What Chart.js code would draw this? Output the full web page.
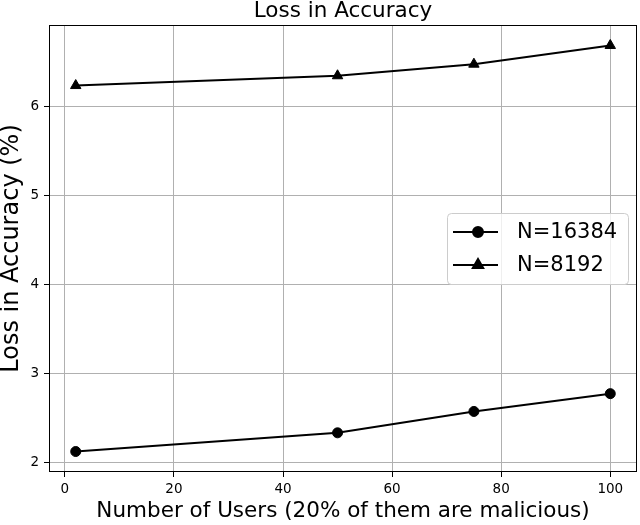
<!DOCTYPE html>
<html><head><meta charset="utf-8">
<script src="https://cdn.jsdelivr.net/npm/chart.js@4.4.0/dist/chart.umd.min.js"></script>
<style>html,body{margin:0;padding:0;background:#fff}#wrap{width:640px;height:525px}</style>
</head><body><div id="wrap"><canvas id="c" width="640" height="525"></canvas></div>
<script>
const users = [2, 50, 75, 100];
const lossN16384 = [2.12, 2.33, 2.57, 2.77];
const lossN8192 = [6.23, 6.34, 6.47, 6.68];
const seriesLabels = ['N=16384', 'N=8192'];
const seriesMarkers = ['circle', 'triangle'];
const xTicks = [0, 20, 40, 60, 80, 100];
const yTicks = [2, 3, 4, 5, 6];
const xRange = [-2.9, 104.9];
const yRange = [1.89, 6.91];
const titleText = 'Loss in Accuracy';
const xTitle = 'Number of Users (20% of them are malicious)';
const yTitle = 'Loss in Accuracy (%)';

const FONT = "'DejaVu Sans', sans-serif";
const toPts = (xs, ys) => xs.map((x, i) => ({x: x, y: ys[i]}));

function mkDataset(label, values, marker, r) {
  return {
    label: label, data: toPts(users, values),
    borderColor: '#000', backgroundColor: '#000', borderWidth: 2,
    pointStyle: marker, pointRadius: r, pointHoverRadius: r,
    pointBackgroundColor: '#000', pointBorderColor: '#000', pointBorderWidth: 1,
    tension: 0, fill: false
  };
}

const frame = {
  id: 'frame',
  afterDraw(chart) {
    const {ctx, chartArea: a} = chart;
    ctx.save();
    ctx.strokeStyle = '#000'; ctx.lineWidth = 1;
    ctx.strokeRect(Math.round(a.left) + 0.5, Math.round(a.top) + 0.5,
                   Math.round(a.right - a.left) - 1, Math.round(a.bottom - a.top) - 1);
    // legend
    const w = 181, h = 71;
    const bx = a.right - 9 - w, by = (a.top + a.bottom) / 2 - h / 2;
    ctx.beginPath();
    if (ctx.roundRect) ctx.roundRect(bx + 0.5, by + 0.5, w, h, 4); else ctx.rect(bx + 0.5, by + 0.5, w, h);
    ctx.fillStyle = 'rgba(255,255,255,0.8)'; ctx.fill();
    ctx.strokeStyle = '#cccccc'; ctx.stroke();
    chart.data.datasets.forEach((ds, i) => {
      const cy = by + 19 + i * 33;
      ctx.beginPath(); ctx.strokeStyle = '#000'; ctx.lineWidth = 2;
      ctx.moveTo(bx + 6, cy); ctx.lineTo(bx + 51, cy); ctx.stroke();
      Chart.helpers.drawPoint(ctx, {pointStyle: ds.pointStyle, radius: ds.pointRadius, borderWidth: 1}, bx + 31, cy);
      ctx.fillStyle = '#000';
      ctx.fill();
      ctx.font = '21px ' + FONT; ctx.textBaseline = 'middle'; ctx.textAlign = 'left';
      ctx.fillText(ds.label, bx + 70, cy + 1);
    });
    ctx.restore();
  }
};

new Chart(document.getElementById('c'), {
  type: 'line',
  data: {datasets: [
    mkDataset(seriesLabels[0], lossN16384, seriesMarkers[0], 5),
    mkDataset(seriesLabels[1], lossN8192, seriesMarkers[1], 6)
  ]},
  options: {
    responsive: false, devicePixelRatio: 1, animation: false,
    layout: {autoPadding: false, padding: {left: 0, right: 3, top: 0, bottom: 0}},
    plugins: {
      legend: {display: false}, tooltip: {enabled: false},
      title: {display: true, text: titleText, color: '#000', fullSize: false,
        font: {family: FONT, size: 21.5, weight: 'normal', lineHeight: 1},
        padding: {top: 1, bottom: 2.5}}
    },
    scales: {
      x: {
        type: 'linear', min: xRange[0], max: xRange[1],
        afterBuildTicks: s => { s.ticks = xTicks.map(v => ({value: v})); },
        afterFit: s => { s.height = 53; },
        grid: {color: '#b0b0b0', lineWidth: 1, tickColor: '#000', tickLength: 5, drawTicks: true},
        border: {display: false},
        ticks: {color: '#000', font: {family: FONT, size: 13.5}, padding: 4, maxRotation: 0, autoSkip: false},
        title: {display: true, text: xTitle, color: '#000',
          font: {family: FONT, size: 21.5, lineHeight: 1}, padding: {top: 0, bottom: 3}}
      },
      y: {
        type: 'linear', min: yRange[0], max: yRange[1],
        afterBuildTicks: s => { s.ticks = yTicks.map(v => ({value: v})); },
        afterFit: s => { s.width = 49; },
        grid: {color: '#b0b0b0', lineWidth: 1, tickColor: '#000', tickLength: 5, drawTicks: true},
        border: {display: false},
        ticks: {color: '#000', font: {family: FONT, size: 13.5}, padding: 5, autoSkip: false},
        title: {display: true, text: yTitle, color: '#000',
          font: {family: FONT, size: 24, lineHeight: 1}, padding: {top: 0, bottom: 0}}
      }
    }
  },
  plugins: [frame]
});
</script>
</body></html>
